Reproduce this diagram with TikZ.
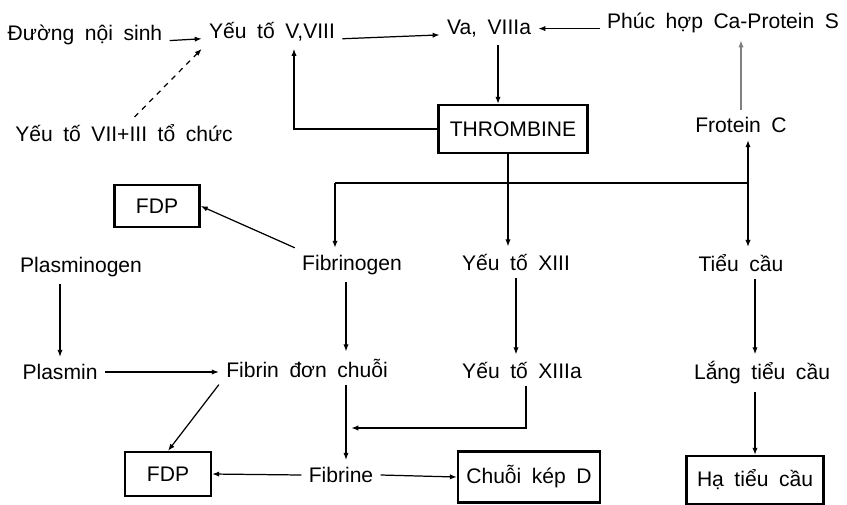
\documentclass[tikz,border=0pt]{standalone}
\usepackage{fontspec}
\setmainfont{Liberation Sans}[WordSpace=1.8]
\usetikzlibrary{arrows.meta}

\begin{document}
\begin{tikzpicture}[x=0.02cm,y=-0.02cm,font=\fontsize{12}{14}\selectfont,
  lbl/.style={inner sep=4pt},
  boxnode/.style={draw,line width=1.3pt,inner sep=2pt},
  flow/.style={line width=0.7pt,-{Latex[length=4pt,width=3pt]}},
  link/.style={line width=0.7pt}]
\useasboundingbox (0,0) rectangle (847,504);
\node[lbl] (dns) at (85,35) {Đường nội sinh};\node[lbl] (v8) at (272,32) {Yếu tố V,VIII};
\node[lbl] (va) at (489,29) {Va, VIIIa};\node[lbl] (phs) at (723,23) {Phúc hợp Ca-Protein S};
\node[lbl] (v7) at (124,133) {Yếu tố VII+III tổ chức};
\node[boxnode,minimum width=2.98cm,minimum height=0.96cm] (thr) at (513,129) {THROMBINE};
\node[lbl] (prc) at (741,125) {Frotein C};
\node[boxnode,minimum width=1.7cm,minimum height=0.84cm] (fdpa) at (157,206) {FDP};
\node[lbl] (plg) at (81,267) {Plasminogen};\node[lbl] (fbg) at (352,265) {Fibrinogen};
\node[lbl] (f13) at (516,262) {Yếu tố XIII};\node[lbl] (tc) at (741,263) {Tiểu cầu};
\node[lbl] (pls) at (60,372) {Plasmin};\node[lbl] (fdc) at (307,368) {Fibrin đơn chuỗi};
\node[lbl] (f13a) at (522,370) {Yếu tố XIIIa};\node[lbl] (ltc) at (762,373) {Lắng tiểu cầu};
\node[boxnode,minimum width=1.72cm,minimum height=0.88cm] (fdpb) at (168,474) {FDP};
\node[lbl] (fbn) at (341,475) {Fibrine};
\node[boxnode,minimum width=2.84cm,minimum height=1.02cm] (ckd) at (529,477) {Chuỗi kép D};
\node[boxnode,minimum width=2.74cm,minimum height=0.96cm] (htc) at (755,480) {Hạ tiểu cầu};
\coordinate (kV) at (294,0);\coordinate (kA) at (498,0);\coordinate (kT) at (508,0);\coordinate (kF) at (346,0);\coordinate (kS) at (755,0);
\coordinate (hL) at (335,183);\coordinate (hR) at (748,183);\coordinate (jm) at (526,428);
\draw[flow] (dns.base east) -- (v8.base west);\draw[flow] (v8.base east) -- (va.base west);
\draw[flow] (phs.base west) -- (phs.base west -| va.east);
\draw[flow,dashed] ([xshift=6pt]v7.north) -- (v8.south west);
\draw[flow] (thr.west) -| (kV |- v8.south);
\draw[flow] (kA |- va.south) -- (kA |- thr.north);
\draw[flow,gray] (prc.north) -- (prc.north |- phs.south);
\draw[link] (hL) -- (hR);
\draw[flow] (kT |- thr.south) -- (kT |- f13.north);
\draw[flow] (hL) -- (hL |- fbg.north);\draw[flow] (hR) -- (hR |- prc.south);\draw[flow] (hR) -- (hR |- tc.north);
\draw[flow] (fbg.north west) -- (fdpa.east);
\draw[flow] (pls.north |- plg.south) -- (pls.north);
\draw[flow] (kF |- fbg.south) -- (kF |- fdc.north);
\draw[flow] (f13.south) -- (f13.south |- f13a.north);
\draw[flow] (kS |- tc.south) -- (kS |- ltc.north);
\draw[flow] (pls.east) -- (pls.east -| fdc.west);
\draw[flow] (fdc.south west) -- (fdpb.north);
\draw[flow] (kF |- fdc.south) -- (kF |- fbn.north);
\draw[flow] (f13a.south -| jm) -- (jm) -- ([xshift=3pt]kF |- jm);
\draw[flow] (fbn.west) -- (fdpb.east);\draw[flow] (fbn.east) -- (ckd.west);
\draw[flow] (kS |- ltc.south) -- (htc.north);
\end{tikzpicture}
\end{document}
